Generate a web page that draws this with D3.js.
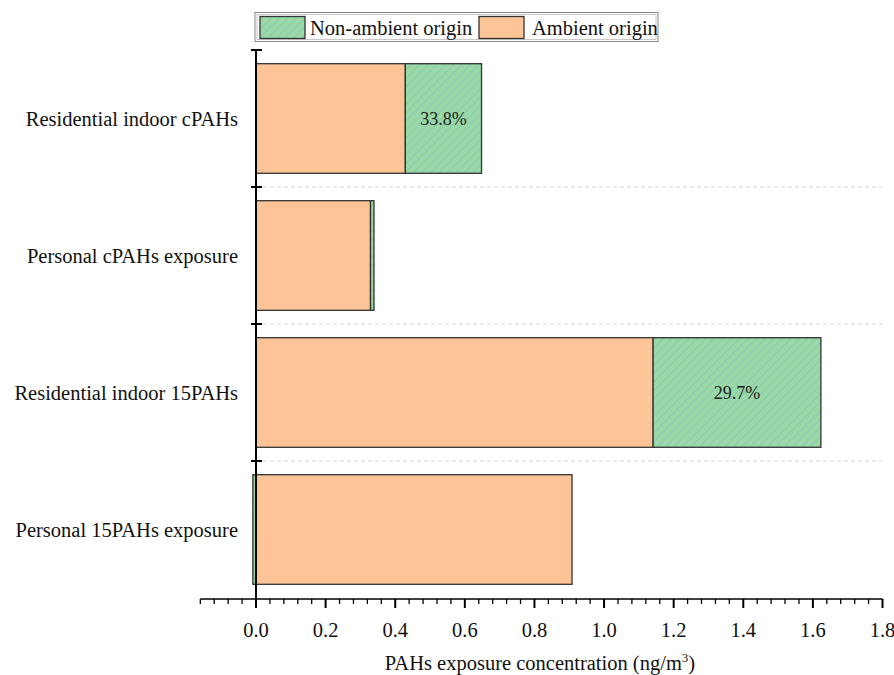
<!DOCTYPE html>
<html>
<head>
<meta charset="utf-8">
<script src="https://cdn.jsdelivr.net/npm/d3@7/dist/d3.min.js"></script>
<style>
  html, body { margin: 0; padding: 0; background: #fff; }
  svg text { font-family: "Liberation Serif", "Times New Roman", "DejaVu Serif", serif; }
</style>
</head>
<body>
<svg id="chart" width="894" height="675"></svg>
<script>
// Exposure concentrations (ng/m3), split by origin
const categories = [
  "Residential indoor cPAHs",
  "Personal cPAHs exposure",
  "Residential indoor 15PAHs",
  "Personal 15PAHs exposure"
];
const ambientOrigin    = [0.429, 0.329, 1.141, 0.908];
const nonAmbientOrigin = [0.219, 0.010, 0.482, -0.009];
const showShare        = [true, false, true, false];
const xTicks = [0.0, 0.2, 0.4, 0.6, 0.8, 1.0, 1.2, 1.4, 1.6, 1.8];

const seriesNames = { ambient: "Ambient origin", nonAmbient: "Non-ambient origin" };
const colors = { ambient: "#fdc597", nonAmbient: "#9ad9a5" };
const FONT = "Liberation Serif, Times New Roman, serif";
const FS = 20.5;

const rows = categories.map((c, i) => ({
  category: c, ambient: ambientOrigin[i], nonAmbient: nonAmbientOrigin[i], show: showShare[i]
}));

const svg = d3.select("#chart");

const x = d3.scaleLinear().domain([0, 1.8]).range([256, 882.5]);
const y = d3.scaleBand().domain(categories).range([50, 598]).paddingInner(0.2).paddingOuter(0.1);
const band = d3.scaleBand().domain(categories).range([50, 598]);

// Diagonal hatch for the non-ambient segment
const defs = svg.append("defs");
const pat = defs.append("pattern")
  .attr("id", "hatch").attr("patternUnits", "userSpaceOnUse")
  .attr("width", 6).attr("height", 6)
  .attr("patternTransform", "rotate(45)");
pat.append("rect").attr("width", 6).attr("height", 6).attr("fill", colors.nonAmbient);
pat.append("line").attr("x1", 0).attr("y1", 0).attr("x2", 0).attr("y2", 6)
  .attr("stroke", "#74b8c4").attr("stroke-width", 1);

// Dashed separators between categories
svg.append("g").selectAll("line")
  .data(categories.slice(1))
  .join("line")
  .attr("x1", x(0)).attr("x2", x(1.8))
  .attr("y1", d => band(d)).attr("y2", d => band(d))
  .attr("stroke", "#d6d6d6").attr("stroke-dasharray", "4,3").attr("stroke-width", 1);

// Stacked bars
const stack = d3.stack().keys(["ambient", "nonAmbient"]).offset(d3.stackOffsetDiverging);
const layers = stack(rows);

const gBars = svg.append("g");
layers.forEach(layer => {
  gBars.append("g").selectAll("rect")
    .data(layer)
    .join("rect")
    .attr("x", d => x(Math.min(d[0], d[1])))
    .attr("width", d => Math.abs(x(d[1]) - x(d[0])))
    .attr("y", d => y(d.data.category))
    .attr("height", y.bandwidth())
    .attr("fill", layer.key === "nonAmbient" ? "url(#hatch)" : colors.ambient)
    .attr("stroke", "#333").attr("stroke-width", 1.3);
});

// Share of non-ambient origin, printed inside the hatched segment
const nonLayer = layers.find(l => l.key === "nonAmbient");
svg.append("g").selectAll("text")
  .data(nonLayer.filter(d => d.data.show))
  .join("text")
  .attr("x", d => (x(d[0]) + x(d[1])) / 2)
  .attr("y", d => y(d.data.category) + y.bandwidth() / 2)
  .attr("dy", "0.35em")
  .attr("text-anchor", "middle")
  .attr("font-family", FONT).attr("font-size", 18).attr("fill", "#222")
  .text(d => (d.data.nonAmbient / (d.data.ambient + d.data.nonAmbient) * 100).toFixed(1) + "%");

// X axis with minor ticks
const axisY = 599;
const gx = svg.append("g").attr("transform", `translate(0,${axisY})`);
const minor = d3.range(-0.16, 1.8001, 0.04).map(v => +v.toFixed(2));
gx.append("line").attr("x1", x(-0.16)).attr("x2", x(1.8)).attr("y1", 0).attr("y2", 0)
  .attr("stroke", "#000").attr("stroke-width", 1.5);
gx.selectAll("line.minor").data(minor.filter(v => !xTicks.some(t => Math.abs(t - v) < 1e-6)))
  .join("line").attr("class", "minor")
  .attr("x1", d => x(d)).attr("x2", d => x(d)).attr("y1", 0).attr("y2", 5)
  .attr("stroke", "#000").attr("stroke-width", 1.3);
gx.selectAll("line.major").data(xTicks)
  .join("line").attr("class", "major")
  .attr("x1", d => x(d)).attr("x2", d => x(d)).attr("y1", 0).attr("y2", 9)
  .attr("stroke", "#000").attr("stroke-width", 2);
gx.selectAll("text").data(xTicks)
  .join("text")
  .attr("x", d => x(d)).attr("y", 38)
  .attr("text-anchor", "middle")
  .attr("font-family", FONT).attr("font-size", FS).attr("fill", "#111")
  .text(d => d3.format(".1f")(d));

// Axis title
const title = svg.append("text")
  .attr("x", 540).attr("y", 670)
  .attr("text-anchor", "middle")
  .attr("font-family", FONT).attr("font-size", FS).attr("fill", "#111");
title.append("tspan").text("PAHs exposure concentration (ng/m");
title.append("tspan").attr("font-size", 13).attr("dy", -8).text("3");
title.append("tspan").attr("dy", 8).text(")");

// Y axis
const gy = svg.append("g");
gy.append("line").attr("x1", x(0)).attr("x2", x(0)).attr("y1", 50).attr("y2", axisY)
  .attr("stroke", "#000").attr("stroke-width", 2);
gy.selectAll("line.tick").data([50, ...categories.slice(1).map(c => band(c))])
  .join("line").attr("class", "tick")
  .attr("x1", x(0) - 5).attr("x2", x(0) + 6)
  .attr("y1", d => d).attr("y2", d => d)
  .attr("stroke", "#000").attr("stroke-width", 2);
gy.selectAll("text").data(categories)
  .join("text")
  .attr("x", 238)
  .attr("y", d => y(d) + y.bandwidth() / 2)
  .attr("dy", "0.35em")
  .attr("text-anchor", "end")
  .attr("font-family", FONT).attr("font-size", FS).attr("fill", "#111")
  .text(d => d);

// Legend
const lg = svg.append("g");
lg.append("rect").attr("x", 255).attr("y", 12.5).attr("width", 403).attr("height", 29)
  .attr("fill", "#fff").attr("stroke", "#888").attr("stroke-width", 1);
lg.append("rect").attr("x", 257).attr("y", 14.5).attr("width", 399).attr("height", 25)
  .attr("fill", "none").attr("stroke", "#bbb").attr("stroke-width", 0.8);
const legendItems = [
  { key: "nonAmbient", x: 260, tx: 310 },
  { key: "ambient", x: 479, tx: 532 }
];
legendItems.forEach(it => {
  lg.append("rect").attr("x", it.x).attr("y", 16.5).attr("width", 45).attr("height", 22)
    .attr("fill", it.key === "nonAmbient" ? "url(#hatch)" : colors.ambient)
    .attr("stroke", "#333").attr("stroke-width", 1.3);
  lg.append("text").attr("x", it.tx).attr("y", 28).attr("dy", "0.35em")
    .attr("font-family", FONT).attr("font-size", FS).attr("fill", "#111").text(seriesNames[it.key]);
});
</script>
</body>
</html>
